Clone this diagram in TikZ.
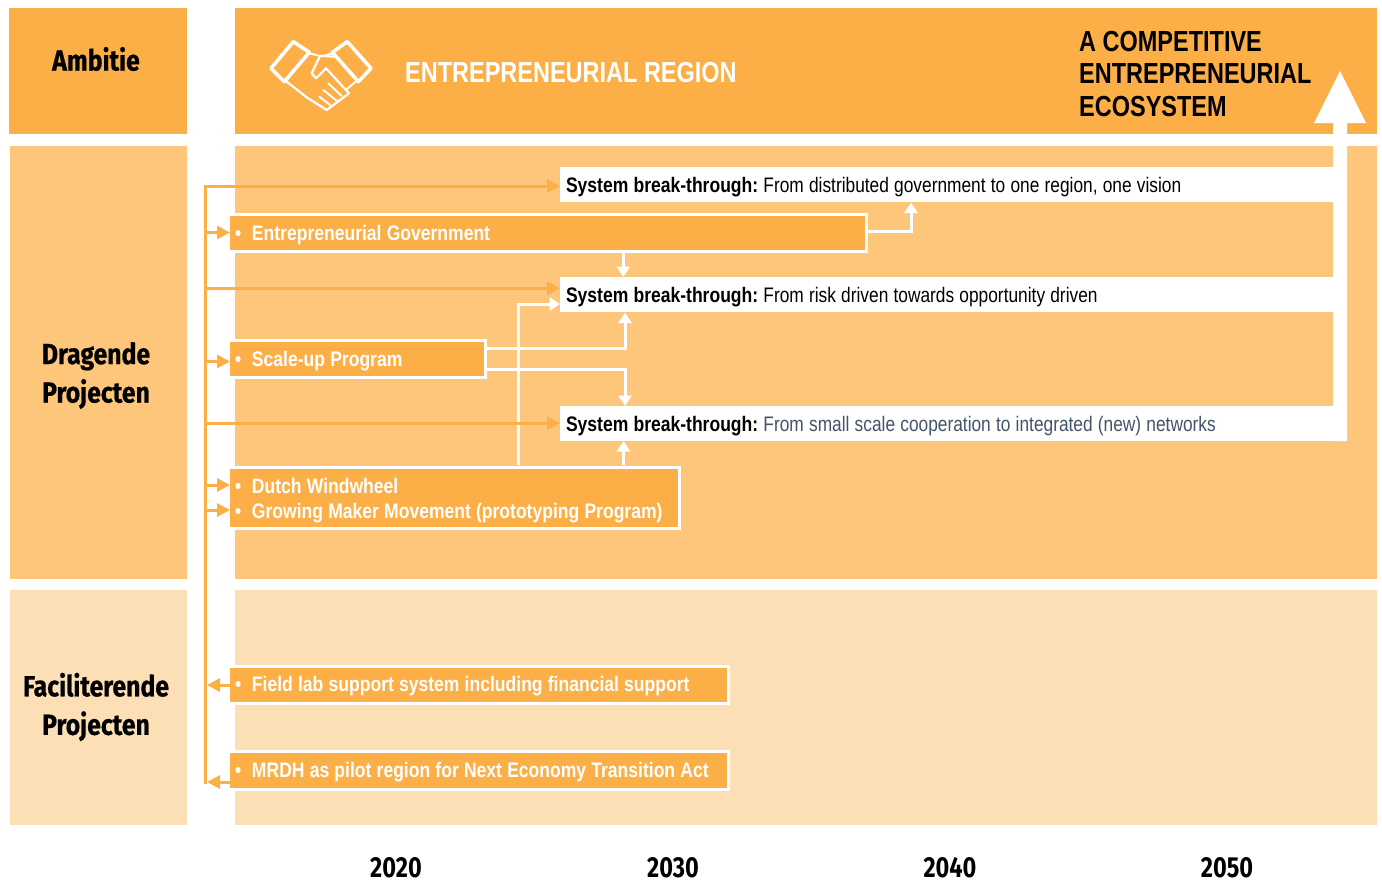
\documentclass[tikz,border=0pt]{standalone}
\usepackage{fontspec}
\usetikzlibrary{arrows.meta,calc}
\setmainfont{Liberation Sans}
\newfontfamily\nar[FakeStretch=0.825]{Liberation Sans}
\newfontfamily\narB[FakeStretch=0.835]{Liberation Sans}
\newfontfamily\narH[FakeStretch=0.81]{Liberation Sans}
\newfontfamily\cond[FakeStretch=0.855,FakeBold=0.6]{Fira Sans}
\newfontfamily\condY[FakeStretch=0.81]{Fira Sans}
\definecolor{oA}{HTML}{FCAF47}
\definecolor{oB}{HTML}{FDC67B}
\definecolor{oC}{HTML}{FDDFB6}
\definecolor{slate}{HTML}{44546A}
\newcommand{\tightwords}{\frenchspacing\spaceskip 5.2pt\relax}
\newcommand{\lead}[1]{{\narB\bfseries #1}}
\tikzset{
  band/.style={inner sep=0pt,outer sep=0pt,anchor=north west,minimum width=#1},
  sysbox/.style={fill=white,inner xsep=6pt,inner ysep=0pt,outer sep=0pt,anchor=north west,
    minimum height=35pt,text width=761pt,align=left,text height=15.5pt,text depth=0pt,font=\nar\fontsize{21}{25}\selectfont,execute at begin node=\tightwords},
  proj/.style={fill=oA,text=white,inner xsep=5pt,inner ysep=0pt,outer sep=0pt,anchor=north west,
    minimum height=#1,align=left,font=\narB\bfseries\fontsize{21}{25}\selectfont,execute at begin node=\tightwords},
  rim/.style={draw=white,line width=3pt},
  head/.style={font=\cond\bfseries\fontsize{29}{38.5}\selectfont,align=center,inner sep=0pt},
  year/.style={font=\condY\bfseries\fontsize{29}{34}\selectfont,inner sep=0pt},
  wline/.style={draw=white,line width=3pt,-{Triangle[length=10.5pt,width=13pt]}},
  oline/.style={draw=oA,line width=3pt,-{Triangle[length=13pt,width=13pt]}},
  icon/.style={draw=white,line join=round,line cap=round},
}
\newcommand{\bul}{\makebox[17pt][l]{•}}
\begin{document}
\begin{tikzpicture}[x=1pt,y=-1pt]
\useasboundingbox (0,0) rectangle (1382,884);
% bands
\node[band=178pt,fill=oA,minimum height=126pt] (bandA) at (9,8) {};
\node[band=177pt,fill=oB,minimum height=433pt] (bandB) at (10,146) {};
\node[band=177pt,fill=oC,minimum height=235pt] (bandC) at (10,590) {};
\node[band=1142pt,fill=oA,minimum height=126pt] (rA) at (235,8) {};
\node[band=1142pt,fill=oB,minimum height=433pt] (rB) at (235,146) {};
\node[band=1142pt,fill=oC,minimum height=235pt] (rC) at (235,590) {};
% row labels
\node[head] (lA) at (96,59) {Ambitie};
\node[head] (lB) at (96,375.5) {Dragende\\Projecten};
\node[head] (lC) at (96,707) {Faciliterende\\Projecten};
% header
\node[anchor=west,inner sep=0pt,text=white,font=\narH\bfseries\fontsize{29}{34}\selectfont] (tA) at (405,72.5) {ENTREPRENEURIAL REGION};
\node[anchor=north west,inner sep=0pt,align=left,font=\narH\bfseries\fontsize{29}{32.5}\selectfont] (tB) at (1079,31) {A COMPETITIVE\\ENTREPRENEURIAL\\ECOSYSTEM};
% handshake icon
\begin{scope}[shift={(190,10)},scale=1/3]
\draw[icon,line width=3.6pt] (310,95) -- (358,127) -- (283,215) -- (243,175) -- cycle;
\draw[icon,line width=3.6pt] (472,95) -- (427,127) -- (505,215) -- (543,175) -- cycle;
\draw[icon,line width=1.9pt] (358,130) -- (390,138) (400,138) -- (427,130);
\draw[icon,line width=2.2pt] (390,138) -- (365,190) -- (378,205) -- (408,175) -- (477,250) -- (410,300) -- (350,262) -- (290,215);
\draw[icon,line width=2.2pt] (390,138) -- (400,138) -- (432,140);
\draw[icon,line width=1.9pt] (497,215) -- (470,238);
\draw[icon,line width=1.9pt] (415,220) -- (455,258) (400,240) -- (440,272) (388,260) -- (420,285);
\end{scope}
% breakthrough boxes
\node[sysbox] (sys1) at (560,167) {\lead{System break-through:} From distributed government to one region, one vision};
\node[sysbox] (sys2) at (560,277) {\lead{System break-through:} From risk driven towards opportunity driven};
\node[sysbox] (sys3) at (560,406) {\lead{System break-through:} \textcolor{slate}{From small scale cooperation to integrated (new) networks}};
% big arrow
\fill[white] (sys3.south east) -- (1347,441) -- (1347,123) -- (1366,123) -- (1340,71) -- (1314,123) -- (1333,123) -- (1333,160) -- cycle;
% project boxes
\node[proj=37pt,text width=626.5pt,text height=14pt,text depth=0pt] (gov) at (230,214.5) {\bul Entrepreneurial Government};
\node[proj=37pt,text width=245.5pt,text height=15pt,text depth=0pt] (scale) at (230,340.5) {\bul Scale-up Program};
\node[proj=61.5pt,text width=439.5pt,text height=15pt,text depth=23.5pt] (dutch) at (230,467) {\bul Dutch Windwheel\\\bul Growing Maker Movement (prototyping Program)};
\node[proj=37.5pt,text width=488.5pt,text height=14pt,text depth=0pt] (field) at (230,666) {\bul Field lab support system including financial support};
\node[proj=37.5pt,text width=488.5pt,text height=14pt,text depth=0pt] (mrdh) at (230,751.5) {\bul MRDH as pilot region for Next Economy Transition Act};
\foreach \b in {gov,scale,dutch,field,mrdh}
  \draw[rim] (\b.north west) -- (\b.north east) -- (\b.south east) -- (\b.south west);
% white connectors
\coordinate (g1) at (868,231);
\coordinate (g2) at (911,202.5);
\coordinate (g3) at (623.3,253);
\coordinate (g4) at (623.3,277);
\coordinate (s1) at (487,348.5);
\coordinate (s2) at (625,312.5);
\coordinate (s3) at (487,369);
\coordinate (s4) at (625,406);
\coordinate (d1) at (623.5,465);
\coordinate (d2) at (623.5,441);
\coordinate (d3) at (518,465);
\coordinate (d4) at (560,304);
\draw[wline] (g1) -| (g2);
\draw[wline] (g3) -- (g4);
\draw[wline] (s1) -| (s2);
\draw[wline] (s3) -| (s4);
\draw[wline] (d1) -- (d2);
\draw[wline] (d3) |- (d4);
% orange bus
\coordinate (b0) at (205,186);
\coordinate (b1) at (205,232.5);
\coordinate (b2) at (205,288.3);
\coordinate (b3) at (205,361.5);
\coordinate (b4) at (205,423.3);
\coordinate (b5) at (205,485);
\coordinate (b6) at (205,510);
\coordinate (b7) at (205,685);
\coordinate (b8) at (205,782);
\draw[draw=oA,line width=3pt] ($(b0)+(0,-1.5)$) -- ($(b8)+(0,1.5)$);
\draw[oline] (b0) -- (b0 -| sys1.west);
\draw[oline] (b1) -- (b1 -| gov.west);
\draw[oline] (b2) -- (b2 -| sys2.west);
\draw[oline] (b3) -- (b3 -| scale.west);
\draw[oline] (b4) -- (b4 -| sys3.west);
\draw[oline] (b5) -- (b5 -| dutch.west);
\draw[oline] (b6) -- (b6 -| dutch.west);
\draw[oline] (b7 -| field.west) -- ($(b7)+(2,0)$);
\draw[oline] (b8 -| mrdh.west) -- ($(b8)+(2,0)$);
% years
\node[year] (y1) at (396,867.5) {2020};
\node[year] (y2) at (673,867.5) {2030};
\node[year] (y3) at (950,867.5) {2040};
\node[year] (y4) at (1227,867.5) {2050};
\end{tikzpicture}
\end{document}
